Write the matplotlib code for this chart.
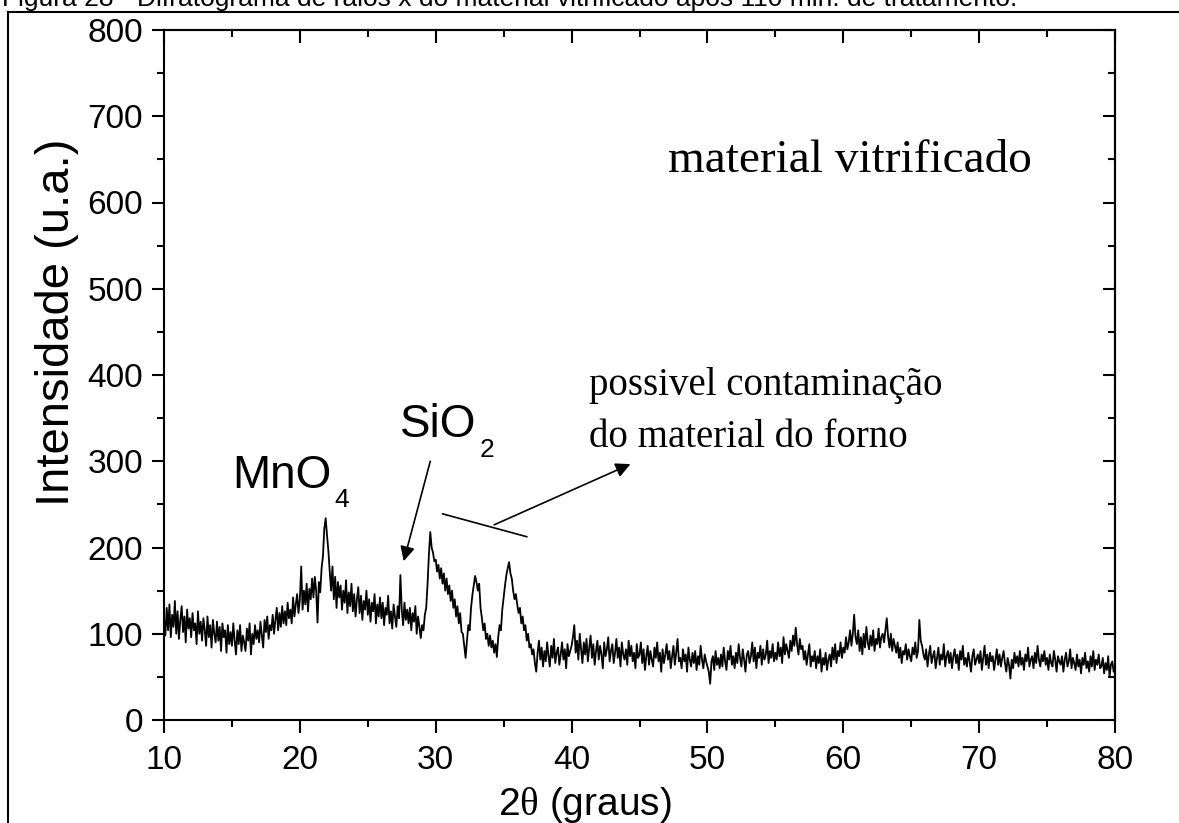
import numpy as np
import matplotlib
matplotlib.use('Agg')
import matplotlib.pyplot as plt
from matplotlib.lines import Line2D
from matplotlib.ticker import MultipleLocator

plt.rcParams['font.family'] = ['Liberation Sans', 'DejaVu Sans']
plt.rcParams['mathtext.fontset'] = 'custom'
plt.rcParams['mathtext.rm'] = 'Liberation Serif'

# 2theta from 10 to 80 in 0.1 steps, intensity (one row per degree)
two_theta = np.round(np.arange(10, 80.001, 0.1), 1)
intensity = [
    118, 98, 130, 104, 134, 96, 122, 108, 138, 100,    # 10
    126, 94, 116, 132, 102, 120, 90, 128, 106, 118,    # 11
    96, 124, 104, 112, 88, 126, 100, 114, 92, 118,     # 12
    104, 86, 120, 96, 110, 84, 116, 100, 90, 114,      # 13
    92, 108, 80, 112, 96, 104, 78, 110, 88, 102,       # 14
    86, 112, 92, 76, 104, 88, 110, 80, 98, 90,         # 15
    80, 106, 92, 112, 76, 100, 88, 110, 94, 104,       # 16
    90, 114, 98, 84, 116, 102, 120, 94, 110, 104,      # 17
    122, 100, 116, 130, 104, 124, 108, 132, 112, 126,  # 18
    110, 136, 118, 128, 112, 142, 120, 134, 146, 124,  # 19
    140, 178, 128, 150, 134, 158, 126, 152, 140, 164,  # 20
    142, 166, 150, 113, 160, 148, 176, 190, 222, 234,  # 21
    214, 196, 172, 150, 178, 140, 166, 130, 160, 142,  # 22
    156, 128, 150, 136, 162, 124, 148, 132, 158, 126,  # 23
    146, 120, 140, 154, 124, 144, 116, 138, 128, 150,  # 24
    122, 140, 114, 136, 126, 146, 112, 134, 120, 142,  # 25
    118, 136, 110, 130, 122, 144, 112, 126, 106, 134,  # 26
    120, 108, 132, 118, 168, 128, 110, 136, 116, 128,  # 27
    112, 130, 104, 124, 114, 132, 100, 120, 108, 95,   # 28
    110, 104, 122, 130, 158, 192, 218, 200, 194, 184,  # 29
    186, 172, 180, 164, 176, 158, 170, 150, 164, 146,  # 30
    156, 138, 150, 130, 140, 120, 132, 112, 124, 102,  # 31
    100, 86, 72, 92, 110, 104, 130, 145, 156, 167,     # 32
    160, 150, 158, 130, 118, 104, 112, 94, 100, 86,    # 33
    98, 84, 92, 78, 88, 73, 96, 110, 104, 128,         # 34
    142, 156, 168, 176, 183, 170, 164, 150, 140, 146,  # 35
    134, 124, 130, 112, 120, 104, 110, 92, 100, 84,    # 36
    88, 76, 82, 66, 56, 78, 92, 70, 84, 62,            # 37
    80, 68, 90, 74, 62, 86, 72, 94, 66, 78,            # 38
    84, 64, 76, 90, 70, 82, 60, 88, 74, 80,            # 39
    86, 96, 110, 78, 92, 70, 100, 82, 66, 90,          # 40
    76, 94, 68, 84, 98, 72, 88, 64, 80, 92,            # 41
    70, 86, 76, 60, 90, 74, 82, 96, 68, 80,            # 42
    88, 66, 78, 94, 72, 84, 62, 90, 76, 70,            # 43
    82, 64, 92, 74, 86, 68, 78, 60, 88, 72,            # 44
    76, 90, 66, 82, 58, 74, 86, 64, 80, 70,            # 45
    62, 84, 72, 90, 68, 78, 56, 82, 66, 76,            # 46
    88, 70, 80, 60, 74, 86, 64, 78, 94, 68,            # 47
    72, 60, 82, 68, 76, 56, 84, 70, 62, 78,            # 48
    66, 80, 58, 74, 64, 86, 70, 60, 76, 68,            # 49
    62, 56, 42, 68, 74, 58, 80, 64, 72, 60,            # 50
    76, 62, 84, 68, 58, 80, 70, 86, 64, 74,            # 51
    60, 78, 66, 88, 72, 62, 82, 70, 56, 76,            # 52
    80, 66, 74, 90, 68, 84, 60, 78, 72, 86,            # 53
    64, 82, 70, 76, 92, 66, 80, 72, 88, 68,            # 54
    78, 70, 90, 74, 84, 66, 96, 76, 88, 80,            # 55
    72, 92, 80, 98, 86, 107, 88, 76, 94, 82,           # 56
    86, 70, 80, 64, 76, 88, 62, 74, 68, 80,            # 57
    60, 74, 66, 82, 56, 72, 64, 78, 58, 70,            # 58
    76, 62, 84, 70, 88, 66, 80, 74, 90, 72,            # 59
    84, 78, 96, 82, 90, 104, 86, 100, 122, 96,         # 60
    88, 104, 80, 96, 76, 100, 84, 108, 90, 82,         # 61
    98, 86, 104, 80, 94, 88, 106, 84, 96, 100,         # 62
    90, 104, 118, 96, 84, 100, 80, 94, 86, 78,         # 63
    90, 72, 84, 66, 80, 76, 88, 70, 82, 74,            # 64
    68, 84, 76, 90, 72, 80, 116, 92, 86, 76,           # 65
    70, 82, 62, 76, 86, 66, 74, 80, 60, 72,            # 66
    84, 64, 76, 70, 88, 62, 74, 80, 66, 78,            # 67
    60, 74, 82, 66, 76, 58, 80, 70, 86, 64,            # 68
    72, 62, 78, 68, 56, 74, 82, 64, 70, 76,            # 69
    66, 80, 58, 72, 86, 64, 76, 60, 78, 68,            # 70
    74, 58, 70, 82, 64, 76, 62, 72, 80, 66,            # 71
    56, 72, 64, 48, 70, 60, 78, 66, 74, 62,            # 72
    80, 64, 72, 58, 76, 68, 84, 62, 70, 74,            # 73
    60, 78, 66, 86, 70, 62, 76, 68, 80, 64,            # 74
    72, 58, 76, 66, 62, 80, 70, 56, 74, 68,            # 75
    64, 74, 56, 70, 78, 62, 68, 82, 60, 72,            # 76
    66, 58, 76, 62, 70, 54, 72, 64, 78, 60,            # 77
    68, 56, 74, 62, 80, 58, 70, 64, 76, 60,            # 78
    62, 72, 54, 66, 58, 74, 50, 64, 68, 56,            # 79
    58,                                                # 80
]

caption = "Figura 28 - Difratograma de raios x do material vitrificado após 110 min. de tratamento."

W, H = 1179, 823
fig = plt.figure(figsize=(W / 100, H / 100), dpi=100)
ax = fig.add_axes([164 / W, 1 - 720 / H, 951 / W, 690 / H])

ax.plot(two_theta, intensity, color='black', lw=1.3)
ax.set_xlim(10, 80)
ax.set_ylim(0, 800)

for s in ax.spines.values():
    s.set_linewidth(1.5)

ax.xaxis.set_major_locator(MultipleLocator(10))
ax.xaxis.set_minor_locator(MultipleLocator(5))
ax.yaxis.set_major_locator(MultipleLocator(100))
ax.yaxis.set_minor_locator(MultipleLocator(50))
ax.tick_params(which='major', direction='out', length=9, width=1.5, labelsize=24)
ax.tick_params(which='minor', direction='out', length=5, width=1.5)
ax.tick_params(axis='x', which='major', pad=9)
ax.tick_params(axis='y', which='major', pad=6)

# top and right ticks point inwards, no labels
top = ax.secondary_xaxis('top')
top.xaxis.set_major_locator(MultipleLocator(10))
top.xaxis.set_minor_locator(MultipleLocator(5))
top.tick_params(which='major', direction='in', length=9, width=1.5, labeltop=False)
top.tick_params(which='minor', direction='in', length=5, width=1.5)
top.spines['top'].set_linewidth(1.5)
right = ax.secondary_yaxis('right')
right.yaxis.set_major_locator(MultipleLocator(100))
right.yaxis.set_minor_locator(MultipleLocator(50))
right.tick_params(which='major', direction='in', length=9, width=1.5, labelright=False)
right.tick_params(which='minor', direction='in', length=5, width=1.5)
right.spines['right'].set_linewidth(1.5)

# axis labels
fig.text(585 / W, 1 - 815 / H, r'2$\mathrm{\theta}$ (graus)', fontsize=28,
         ha='center', va='baseline')
fig.text(57 / W, 1 - 322 / H, 'Intensidade (u.a.)', fontsize=34,
         rotation=90, ha='center', va='center')

# annotations
ax.text(15.0, 269, 'MnO', fontsize=33, va='baseline')
ax.text(22.55, 247, '4', fontsize=19, va='baseline')
ax.text(27.37, 328, 'SiO', fontsize=33, va='baseline')
ax.text(33.2, 305, '2', fontsize=19, va='baseline')
ax.text(47.1, 635, 'material vitrificado', fontsize=34, va='baseline',
        family='Liberation Serif')
ax.text(41.28, 377, 'possivel contaminação', fontsize=28, va='baseline',
        family='Liberation Serif')
ax.text(41.28, 316, 'do material do forno', fontsize=28, va='baseline',
        family='Liberation Serif')

arrow = dict(arrowstyle='-|>', color='black', lw=1.2, mutation_scale=22)
ax.annotate('', xy=(27.59, 181), xytext=(29.65, 303), arrowprops=arrow)
ax.annotate('', xy=(44.52, 298), xytext=(34.12, 225), arrowprops=arrow)
ax.plot([30.51, 36.70], [239, 212.5], color='black', lw=1.2)

# caption (cut by the top edge, as on the page) and page frame
fig.text(2 / W, 1 - 6 / H, caption, fontsize=19, ha='left', va='baseline')
fig.add_artist(Line2D([8 / W, 8 / W], [0, 1 - 12 / H], color='black', lw=1.5))
fig.add_artist(Line2D([8 / W, 1], [1 - 12 / H, 1 - 12 / H], color='black', lw=1.5))

fig.savefig('out.png', dpi=100)
